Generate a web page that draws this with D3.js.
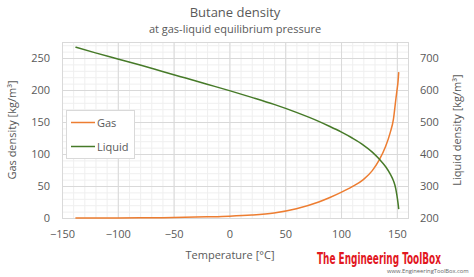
<!DOCTYPE html>
<html>
<head>
<meta charset="utf-8">
<script src="https://cdn.jsdelivr.net/npm/d3@7"></script>
<style>
  body { margin: 0; background: #fff; }
  text { font-family: "Open Sans", "Noto Sans", sans-serif; fill: #595959; }
</style>
</head>
<body>
<div id="chart"></div>
<script>

// saturated butane
var temps  = [-138, -120, -100, -80, -60, -40, -20, 0, 20, 40, 60, 80, 90, 100, 110, 120, 128, 134, 140, 144, 147, 149, 150, 151, 151.7];
var gasDensity = [0, 0.01, 0.05, 0.2, 0.5, 1, 1.8, 2.8, 4.6, 7.9, 14.5, 25, 32, 40, 49, 60, 74, 90, 112, 133, 155, 184, 198, 212, 228];
var liquidDensity = [734, 716, 697, 678, 658, 638, 618, 598, 577, 555, 530, 502, 486, 469, 450, 428, 406, 385, 360, 338, 316, 292, 272, 248, 228];

var xTicks = [-150, -100, -50, 0, 50, 100, 150];
var leftTicks = [0, 50, 100, 150, 200, 250];
var rightTicks = [200, 300, 400, 500, 600, 700];
var seriesNames = ["Gas", "Liquid"];

var W = 474, H = 277;
var margin = { top: 42, right: 66, bottom: 59, left: 62 };
var plotW = W - margin.left - margin.right;
var plotH = H - margin.top - margin.bottom;

var x = d3.scaleLinear().domain([-150, 160]).range([0, plotW]);
var yL = d3.scaleLinear().domain([0, 275]).range([plotH, 0]);
var yR = d3.scaleLinear().domain([200, 750]).range([plotH, 0]);

var colors = { Gas: "#ed7d31", Liquid: "#467a28" };

var svg = d3.select("#chart").append("svg")
  .attr("width", W)
  .attr("height", H);

svg.append("text")
  .attr("x", 235).attr("y", 17)
  .attr("text-anchor", "middle")
  .style("font-size", "13px")
  .text("Butane density");

svg.append("text")
  .attr("x", 235).attr("y", 33)
  .attr("text-anchor", "middle")
  .style("font-size", "11px")
  .text("at gas-liquid equilibrium pressure");

var g = svg.append("g")
  .attr("transform", "translate(" + margin.left + "," + margin.top + ")");

// minor grid
g.append("g").selectAll("line")
  .data(d3.range(-150, 161, 10))
  .enter().append("line")
  .attr("x1", function(d) { return x(d) + 0.5; })
  .attr("x2", function(d) { return x(d) + 0.5; })
  .attr("y1", 0).attr("y2", plotH)
  .attr("stroke", "#efefef");

g.append("g").selectAll("line")
  .data(d3.range(0, 276, 10))
  .enter().append("line")
  .attr("y1", function(d) { return yL(d) + 0.5; })
  .attr("y2", function(d) { return yL(d) + 0.5; })
  .attr("x1", 0).attr("x2", plotW)
  .attr("stroke", "#efefef");

// major grid
g.append("g").selectAll("line")
  .data(xTicks)
  .enter().append("line")
  .attr("x1", function(d) { return x(d) + 0.5; })
  .attr("x2", function(d) { return x(d) + 0.5; })
  .attr("y1", 0).attr("y2", plotH)
  .attr("stroke", "#d9d9d9");

g.append("g").selectAll("line")
  .data(leftTicks)
  .enter().append("line")
  .attr("y1", function(d) { return yL(d) + 0.5; })
  .attr("y2", function(d) { return yL(d) + 0.5; })
  .attr("x1", 0).attr("x2", plotW)
  .attr("stroke", "#d9d9d9");

g.append("rect")
  .attr("x", 0.5).attr("y", 0.5)
  .attr("width", plotW).attr("height", plotH)
  .attr("fill", "none")
  .attr("stroke", "#d9d9d9");

// axes
var xAxis = d3.axisBottom(x).tickValues(xTicks).tickSize(0).tickPadding(12);
var yAxisL = d3.axisLeft(yL).tickValues(leftTicks).tickSize(0).tickPadding(12);
var yAxisR = d3.axisRight(yR).tickValues(rightTicks).tickSize(0).tickPadding(12);

g.append("g")
  .attr("transform", "translate(0," + plotH + ")")
  .call(xAxis)
  .call(function(s) { s.select(".domain").remove(); })
  .selectAll("text").style("font-size", "11px").attr("fill", "#595959");

g.append("g")
  .call(yAxisL)
  .call(function(s) { s.select(".domain").remove(); })
  .selectAll("text").style("font-size", "11px").attr("fill", "#595959");

g.append("g")
  .attr("transform", "translate(" + plotW + ",0)")
  .call(yAxisR)
  .call(function(s) { s.select(".domain").remove(); })
  .selectAll("text").style("font-size", "11px").attr("fill", "#595959");

// axis titles
svg.append("text")
  .attr("x", 230).attr("y", 259)
  .attr("text-anchor", "middle")
  .style("font-size", "11px")
  .text("Temperature [°C]");

svg.append("text")
  .attr("transform", "translate(16," + (margin.top + plotH / 2) + ") rotate(-90)")
  .attr("text-anchor", "middle")
  .style("font-size", "11px")
  .text("Gas density [kg/m³]");

svg.append("text")
  .attr("transform", "translate(461," + (margin.top + plotH / 2) + ") rotate(-90)")
  .attr("text-anchor", "middle")
  .style("font-size", "11px")
  .text("Liquid density [kg/m³]");

// curves
var gasData = temps.map(function(t, i) { return { t: t, v: gasDensity[i] }; });
var liqData = temps.map(function(t, i) { return { t: t, v: liquidDensity[i] }; });

var gasLine = d3.line().curve(d3.curveMonotoneX)
  .x(function(d) { return x(d.t); })
  .y(function(d) { return yL(d.v); });
var liqLine = d3.line().curve(d3.curveMonotoneX)
  .x(function(d) { return x(d.t); })
  .y(function(d) { return yR(d.v); });

g.append("path")
  .datum(gasData)
  .attr("d", gasLine)
  .attr("fill", "none")
  .attr("stroke", colors.Gas)
  .attr("stroke-width", 1.5);

g.append("path")
  .datum(liqData)
  .attr("d", liqLine)
  .attr("fill", "none")
  .attr("stroke", colors.Liquid)
  .attr("stroke-width", 1.5);

// legend
var legend = svg.append("g").attr("transform", "translate(66,110)");
legend.append("rect")
  .attr("x", 0.5).attr("y", 0.5)
  .attr("width", 68).attr("height", 48)
  .attr("fill", "#fff")
  .attr("stroke", "#d9d9d9");

seriesNames.forEach(function(name, i) {
  var ly = 12.5 + i * 24;
  legend.append("line")
    .attr("x1", 5).attr("x2", 29)
    .attr("y1", ly).attr("y2", ly)
    .attr("stroke", colors[name])
    .attr("stroke-width", 1.5);
  legend.append("text")
    .attr("x", 31).attr("y", ly + 4)
    .style("font-size", "11px")
    .text(name);
});

// watermark, squeezed horizontally to fit
function squeezed(txt, left, base, width, size, color, bold, family) {
  var grp = svg.append("g");
  var t = grp.append("text")
    .attr("x", 0).attr("y", 0)
    .style("font-size", size + "px")
    .style("fill", color)
    .text(txt);
  if (bold) t.style("font-weight", "bold");
  if (family) t.style("font-family", family);
  var sx = width / t.node().getComputedTextLength();
  grp.attr("transform", "translate(" + left + "," + base + ") scale(" + sx + ",1)");
}

squeezed("The Engineering ToolBox", 317, 264, 124, 15, "#e2181f", true,
  "'DejaVu Sans Condensed', 'DejaVu Sans', sans-serif");
squeezed("www.EngineeringToolBox.com", 387, 273, 82, 6, "#666", false, null);

</script>
</body>
</html>
